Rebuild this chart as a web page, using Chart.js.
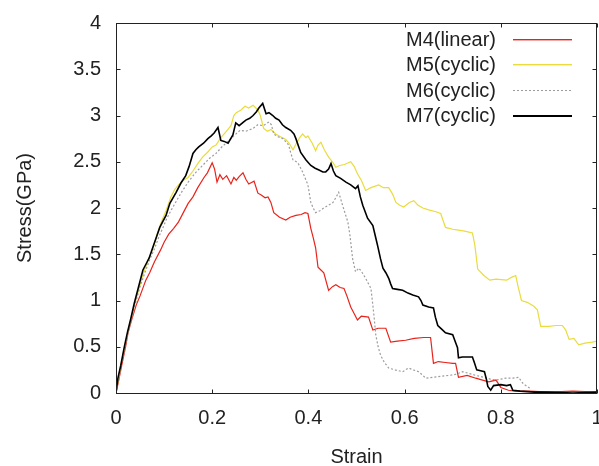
<!DOCTYPE html>
<html>
<head>
<meta charset="utf-8">
<script src="https://cdn.jsdelivr.net/npm/chart.js@4/dist/chart.umd.min.js"></script>
<style>
html,body{margin:0;padding:0;background:#fff;}
#c{display:block;}
</style>
</head>
<body>
<canvas id="c" width="599" height="466"></canvas>
<script>
const seriesNames = ['M4(linear)', 'M5(cyclic)', 'M6(cyclic)', 'M7(cyclic)'];
const xTickLabels = ['0', '0.2', '0.4', '0.6', '0.8', '1'];
const yTickLabels = ['0', '0.5', '1', '1.5', '2', '2.5', '3', '3.5', '4'];
const xTitle = 'Strain';
const yTitle = 'Stress(GPa)';

const m4Points = [[0,0],[0.005,0.12],[0.012,0.3],[0.02,0.5],[0.025,0.65],[0.033,0.8],[0.042,0.95],[0.05,1.05],[0.062,1.22],[0.07,1.3],[0.08,1.42],[0.093,1.55],[0.1,1.63],[0.11,1.72],[0.12,1.78],[0.13,1.85],[0.14,1.95],[0.15,2.05],[0.16,2.12],[0.17,2.22],[0.183,2.33],[0.19,2.38],[0.2,2.49],[0.205,2.42],[0.21,2.28],[0.216,2.36],[0.222,2.31],[0.23,2.35],[0.239,2.26],[0.245,2.33],[0.25,2.3],[0.256,2.34],[0.264,2.38],[0.27,2.31],[0.276,2.26],[0.287,2.29],[0.295,2.16],[0.302,2.14],[0.31,2.11],[0.316,2.12],[0.322,2.06],[0.328,1.95],[0.34,1.9],[0.353,1.87],[0.362,1.9],[0.374,1.92],[0.385,1.93],[0.393,1.95],[0.399,1.94],[0.405,1.78],[0.41,1.68],[0.415,1.57],[0.42,1.36],[0.426,1.33],[0.432,1.3],[0.442,1.11],[0.45,1.15],[0.457,1.17],[0.466,1.14],[0.474,1.13],[0.48,1.05],[0.488,0.93],[0.495,0.86],[0.502,0.79],[0.51,0.83],[0.525,0.82],[0.534,0.68],[0.545,0.7],[0.561,0.7],[0.571,0.55],[0.585,0.56],[0.602,0.57],[0.62,0.59],[0.64,0.6],[0.654,0.6],[0.66,0.32],[0.67,0.34],[0.685,0.33],[0.7,0.32],[0.706,0.32],[0.712,0.17],[0.73,0.19],[0.748,0.16],[0.762,0.14],[0.775,0.12],[0.79,0.14],[0.8,0.06],[0.816,0.03],[0.83,0.02],[0.86,0.02],[0.9,0.01],[0.95,0.02],[1.0,0.01]];

const m5Points = [[0,0],[0.005,0.15],[0.012,0.35],[0.02,0.55],[0.03,0.78],[0.04,0.98],[0.05,1.17],[0.058,1.31],[0.068,1.45],[0.078,1.58],[0.087,1.74],[0.095,1.86],[0.104,1.97],[0.114,2.12],[0.122,2.2],[0.13,2.25],[0.14,2.3],[0.15,2.33],[0.16,2.4],[0.17,2.48],[0.18,2.55],[0.19,2.6],[0.2,2.66],[0.208,2.68],[0.218,2.76],[0.228,2.82],[0.239,2.89],[0.245,3.0],[0.25,3.03],[0.26,3.06],[0.268,3.1],[0.276,3.08],[0.285,3.11],[0.295,3.06],[0.3,3.0],[0.307,2.86],[0.315,2.83],[0.322,2.85],[0.332,2.8],[0.342,2.77],[0.353,2.74],[0.36,2.7],[0.368,2.63],[0.375,2.7],[0.382,2.76],[0.388,2.8],[0.395,2.76],[0.399,2.78],[0.408,2.7],[0.415,2.62],[0.42,2.68],[0.426,2.71],[0.433,2.63],[0.442,2.55],[0.45,2.5],[0.457,2.44],[0.465,2.46],[0.475,2.47],[0.488,2.5],[0.495,2.45],[0.502,2.37],[0.51,2.3],[0.519,2.19],[0.53,2.22],[0.546,2.25],[0.556,2.22],[0.567,2.22],[0.575,2.15],[0.582,2.06],[0.59,2.03],[0.598,2.01],[0.61,2.06],[0.619,2.08],[0.628,2.03],[0.638,2.0],[0.65,1.98],[0.665,1.96],[0.675,1.94],[0.685,1.79],[0.7,1.77],[0.712,1.76],[0.725,1.75],[0.741,1.73],[0.746,1.6],[0.752,1.34],[0.765,1.27],[0.777,1.22],[0.79,1.23],[0.812,1.22],[0.822,1.25],[0.831,1.27],[0.836,1.15],[0.843,1.0],[0.855,0.98],[0.868,0.94],[0.876,0.9],[0.883,0.72],[0.9,0.72],[0.915,0.73],[0.928,0.73],[0.935,0.68],[0.942,0.58],[0.952,0.59],[0.962,0.52],[0.975,0.54],[0.99,0.55],[1.0,0.56]];

const m6Points = [[0,0],[0.005,0.14],[0.012,0.33],[0.02,0.52],[0.03,0.75],[0.04,0.96],[0.05,1.15],[0.06,1.3],[0.07,1.44],[0.08,1.56],[0.09,1.7],[0.097,1.78],[0.105,1.88],[0.115,1.98],[0.125,2.07],[0.135,2.16],[0.15,2.28],[0.165,2.38],[0.18,2.46],[0.195,2.54],[0.208,2.59],[0.22,2.66],[0.235,2.73],[0.245,2.78],[0.258,2.84],[0.27,2.83],[0.285,2.86],[0.295,2.9],[0.306,2.89],[0.318,2.93],[0.323,2.9],[0.328,2.8],[0.337,2.77],[0.347,2.75],[0.359,2.68],[0.363,2.6],[0.368,2.52],[0.378,2.49],[0.383,2.44],[0.388,2.39],[0.395,2.3],[0.399,2.25],[0.405,2.06],[0.41,2.0],[0.415,1.95],[0.424,1.97],[0.432,2.0],[0.442,2.03],[0.451,2.06],[0.458,2.12],[0.463,2.17],[0.467,2.1],[0.471,2.03],[0.477,1.93],[0.482,1.85],[0.486,1.72],[0.488,1.63],[0.492,1.45],[0.498,1.31],[0.505,1.35],[0.512,1.3],[0.519,1.24],[0.525,1.18],[0.53,1.13],[0.534,0.95],[0.537,0.8],[0.54,0.63],[0.545,0.5],[0.55,0.41],[0.558,0.33],[0.567,0.27],[0.58,0.25],[0.596,0.23],[0.608,0.27],[0.618,0.25],[0.629,0.23],[0.636,0.2],[0.644,0.16],[0.658,0.17],[0.675,0.18],[0.692,0.19],[0.705,0.2],[0.721,0.23],[0.735,0.21],[0.748,0.19],[0.765,0.17],[0.778,0.15],[0.79,0.14],[0.81,0.16],[0.825,0.16],[0.837,0.17],[0.845,0.11],[0.852,0.08],[0.858,0.06],[0.862,0.05]];

const m7Points = [[0,0],[0.004,0.16],[0.01,0.3],[0.017,0.49],[0.024,0.66],[0.031,0.81],[0.038,0.97],[0.046,1.13],[0.056,1.33],[0.063,1.4],[0.069,1.46],[0.077,1.58],[0.085,1.7],[0.091,1.79],[0.098,1.86],[0.104,1.92],[0.112,2.05],[0.125,2.17],[0.135,2.27],[0.145,2.35],[0.152,2.45],[0.16,2.59],[0.166,2.63],[0.172,2.66],[0.182,2.7],[0.191,2.75],[0.198,2.78],[0.204,2.81],[0.212,2.87],[0.218,2.73],[0.225,2.72],[0.233,2.7],[0.243,2.79],[0.249,2.92],[0.256,2.89],[0.263,2.92],[0.27,2.95],[0.278,2.97],[0.285,3.0],[0.292,3.04],[0.297,3.08],[0.305,3.13],[0.312,3.02],[0.318,3.03],[0.326,3.0],[0.332,2.97],[0.339,2.95],[0.346,2.9],[0.353,2.87],[0.363,2.84],[0.37,2.8],[0.374,2.75],[0.38,2.66],[0.384,2.6],[0.395,2.52],[0.405,2.46],[0.414,2.43],[0.422,2.41],[0.43,2.39],[0.436,2.39],[0.442,2.42],[0.447,2.48],[0.452,2.4],[0.457,2.35],[0.467,2.32],[0.478,2.28],[0.488,2.25],[0.498,2.21],[0.503,2.24],[0.508,2.12],[0.513,2.03],[0.518,1.96],[0.523,1.89],[0.534,1.81],[0.539,1.7],[0.544,1.59],[0.55,1.45],[0.555,1.35],[0.561,1.3],[0.567,1.24],[0.571,1.18],[0.575,1.13],[0.585,1.12],[0.596,1.11],[0.607,1.08],[0.617,1.06],[0.629,1.04],[0.634,1.0],[0.638,0.95],[0.65,0.93],[0.66,0.92],[0.664,0.82],[0.669,0.73],[0.677,0.69],[0.685,0.65],[0.7,0.63],[0.705,0.56],[0.71,0.49],[0.712,0.38],[0.72,0.39],[0.733,0.39],[0.741,0.39],[0.745,0.33],[0.75,0.25],[0.758,0.24],[0.766,0.23],[0.77,0.15],[0.773,0.07],[0.779,0.03],[0.785,0.08],[0.8,0.09],[0.812,0.08],[0.82,0.09],[0.825,0.03],[0.84,0.02],[0.87,0.01],[0.9,0.01],[0.95,0.0],[1.0,0.01]];

const seriesPoints = [m4Points, m5Points, m6Points, m7Points];
const seriesColors = ['#e8231b', '#e9dc3c', '#9c9c9c', '#000000'];
const seriesWidths = [1.2, 1.2, 1.2, 1.6];
const seriesDash = [[], [], [2, 2], []];

const FONT = "'Liberation Sans', Arial, sans-serif";
const TEXT = '#222222';

const toXY = pts => pts.map(p => ({x: p[0], y: p[1]}));

const datasets = seriesNames.map((name, i) => ({
  label: name,
  data: toXY(seriesPoints[i]),
  borderColor: seriesColors[i],
  backgroundColor: seriesColors[i],
  borderWidth: seriesWidths[i],
  borderDash: seriesDash[i],
  pointRadius: 0,
  tension: 0,
  fill: false,
  order: seriesNames.length - i
}));

const framePlugin = {
  id: 'frame',
  afterDraw(chart) {
    const ctx = chart.ctx;
    const a = chart.chartArea;
    const xs = chart.scales.x, ys = chart.scales.y;
    ctx.save();
    ctx.setLineDash([]);
    ctx.strokeStyle = '#222';
    ctx.lineWidth = 1;
    const L = Math.round(a.left) + 0.5, R = Math.round(a.right) - 0.5;
    const T = Math.round(a.top) + 0.5, B = Math.round(a.bottom) + 0.5;
    ctx.strokeRect(L, T, R - L, B - T);
    const tl = 4;
    ctx.beginPath();
    xTickLabels.forEach((t, i) => {
      const px = Math.round(xs.getPixelForValue(i * 0.2)) + 0.5;
      ctx.moveTo(px, B); ctx.lineTo(px, B - tl);
      ctx.moveTo(px, T); ctx.lineTo(px, T + tl);
    });
    yTickLabels.forEach((t, i) => {
      const py = Math.round(ys.getPixelForValue(i * 0.5)) + 0.5;
      ctx.moveTo(L, py); ctx.lineTo(L + tl, py);
      ctx.moveTo(R, py); ctx.lineTo(R - tl, py);
    });
    ctx.stroke();
    ctx.restore();

    // key
    const rows = [39, 64, 90, 115];
    seriesNames.forEach((name, i) => {
      ctx.save();
      ctx.font = '20px ' + FONT;
      ctx.textAlign = 'right';
      ctx.textBaseline = 'middle';
      ctx.fillStyle = TEXT;
      ctx.fillText(name, 496, rows[i] + 1.5);
      ctx.fillStyle = seriesColors[i];
      if (seriesDash[i].length) {
        for (let x = 513; x < 572; x += 4) ctx.fillRect(x, rows[i], 2, 1);
      } else {
        ctx.fillRect(513, rows[i], 59, i === 3 ? 2 : 1.4);
      }
      ctx.restore();
    });
  }
};

new Chart(document.getElementById('c'), {
  type: 'line',
  data: { datasets },
  options: {
    responsive: false,
    animation: false,
    devicePixelRatio: 1,
    layout: { padding: { top: 23, right: 2, left: 0, bottom: 0 } },
    plugins: { legend: { display: false }, tooltip: { enabled: false } },
    scales: {
      x: {
        type: 'linear', min: 0, max: 1,
        afterFit: s => { s.height = 73; s.paddingLeft = 0; s.paddingRight = 0; },
        afterBuildTicks: s => { s.ticks = xTickLabels.map((t, i) => ({ value: i * 0.2 })); },
        ticks: {
          callback: (v, i) => xTickLabels[i],
          font: { family: FONT, size: 20 }, color: TEXT, padding: 13, maxRotation: 0, autoSkip: false
        },
        grid: { display: false, drawTicks: false },
        border: { display: false },
        title: { display: true, text: xTitle, font: { family: FONT, size: 20, lineHeight: 1 }, color: TEXT, padding: { top: 0, bottom: -1 } }
      },
      y: {
        type: 'linear', min: 0, max: 4,
        afterFit: s => { s.width = 116; s.paddingTop = 0; s.paddingBottom = 0; },
        afterBuildTicks: s => { s.ticks = yTickLabels.map((t, i) => ({ value: i * 0.5 })); },
        ticks: {
          callback: (v, i) => yTickLabels[i],
          font: { family: FONT, size: 20 }, color: TEXT, padding: 15, autoSkip: false
        },
        grid: { display: false, drawTicks: false },
        border: { display: false },
        title: { display: true, text: yTitle, font: { family: FONT, size: 20, lineHeight: 1 }, color: TEXT, padding: { top: 15, bottom: 0 } }
      }
    }
  },
  plugins: [framePlugin]
});
</script>
</body>
</html>
